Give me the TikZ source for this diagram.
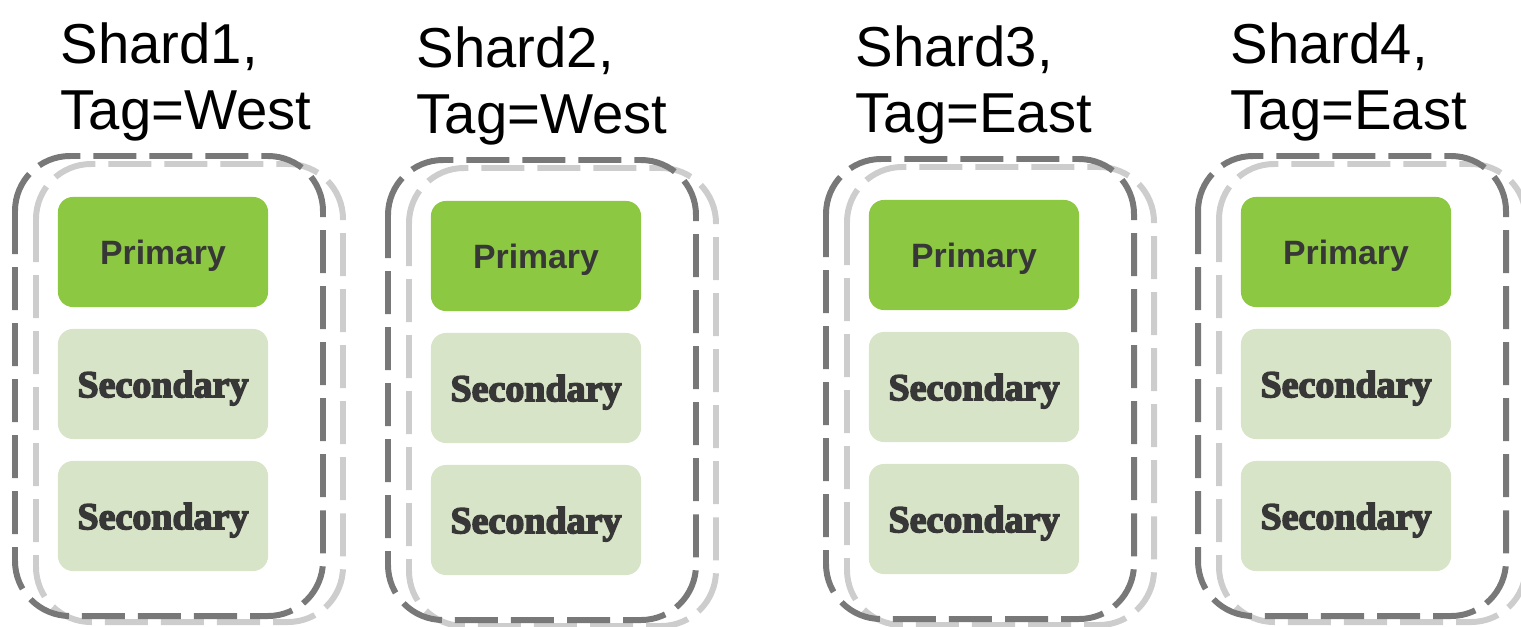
\documentclass[tikz,border=0pt]{standalone}
\usepackage{fontspec}
\setmainfont{Liberation Sans}
\newfontfamily\heavyserif{Liberation Serif}[BoldFeatures={FakeBold=4}]

\definecolor{primgreen}{RGB}{140,200,65}
\definecolor{secgreen}{RGB}{216,228,199}
\definecolor{boxtext}{RGB}{55,55,55}
\definecolor{framedark}{RGB}{120,120,120}
\definecolor{framelight}{RGB}{205,205,205}

\tikzset{
    member/.style={rounded corners=0.15cm, minimum width=2.1cm,
        minimum height=1.1cm, inner sep=0pt, text depth=0pt, text=boxtext},
    primary/.style={member, fill=primgreen,
        font=\fontsize{9.6}{11}\selectfont\bfseries},
    secondary/.style={member, fill=secgreen,
        font=\fontsize{10.8}{12}\selectfont\heavyserif\bfseries},
    shardframe/.style={line width=1.7pt, rounded corners=0.55cm,
        dash pattern=on 0.43cm off 0.13cm},
    shardlabel/.style={anchor=north west, inner sep=0pt, align=left,
        font=\fontsize{16}{18.8}\selectfont}
}

\begin{document}
\begin{tikzpicture}[x=0.01cm, y=0.01cm]
        \useasboundingbox (0,0) rectangle (1521,626);
        % shard 1
        \begin{scope}[shift={(58,429)}]
                \node[primary] (p1) at (105,-55) {Primary};
                \node[secondary] (s1a) at (105,-187) {Secondary};
                \node[secondary] (s1b) at (105,-319) {Secondary};
                \draw[shardframe, framelight] (-22,33) rectangle (285,-425);
                \draw[shardframe, framedark] (-43,41) rectangle (265,-419);
                \node[shardlabel] (l1) at (2,175) {Shard1,\\Tag=West};
        \end{scope}
        % shard 2
        \begin{scope}[shift={(431,425)}]
                \node[primary] (p2) at (105,-55) {Primary};
                \node[secondary] (s2a) at (105,-187) {Secondary};
                \node[secondary] (s2b) at (105,-319) {Secondary};
                \draw[shardframe, framelight] (-22,33) rectangle (285,-425);
                \draw[shardframe, framedark] (-43,41) rectangle (265,-419);
                \node[shardlabel] (l2) at (-15,175) {Shard2,\\Tag=West};
        \end{scope}
        % shard 3
        \begin{scope}[shift={(869,426)}]
                \node[primary] (p3) at (105,-55) {Primary};
                \node[secondary] (s3a) at (105,-187) {Secondary};
                \node[secondary] (s3b) at (105,-319) {Secondary};
                \draw[shardframe, framelight] (-22,33) rectangle (285,-425);
                \draw[shardframe, framedark] (-43,41) rectangle (265,-419);
                \node[shardlabel] (l3) at (-14,175) {Shard3,\\Tag=East};
        \end{scope}
        % shard 4
        \begin{scope}[shift={(1241,429)}]
                \node[primary] (p4) at (105,-55) {Primary};
                \node[secondary] (s4a) at (105,-187) {Secondary};
                \node[secondary] (s4b) at (105,-319) {Secondary};
                \draw[shardframe, framelight] (-22,33) rectangle (285,-425);
                \draw[shardframe, framedark] (-43,41) rectangle (265,-419);
                \node[shardlabel] (l4) at (-11,175) {Shard4,\\Tag=East};
        \end{scope}
\end{tikzpicture}
\end{document}
